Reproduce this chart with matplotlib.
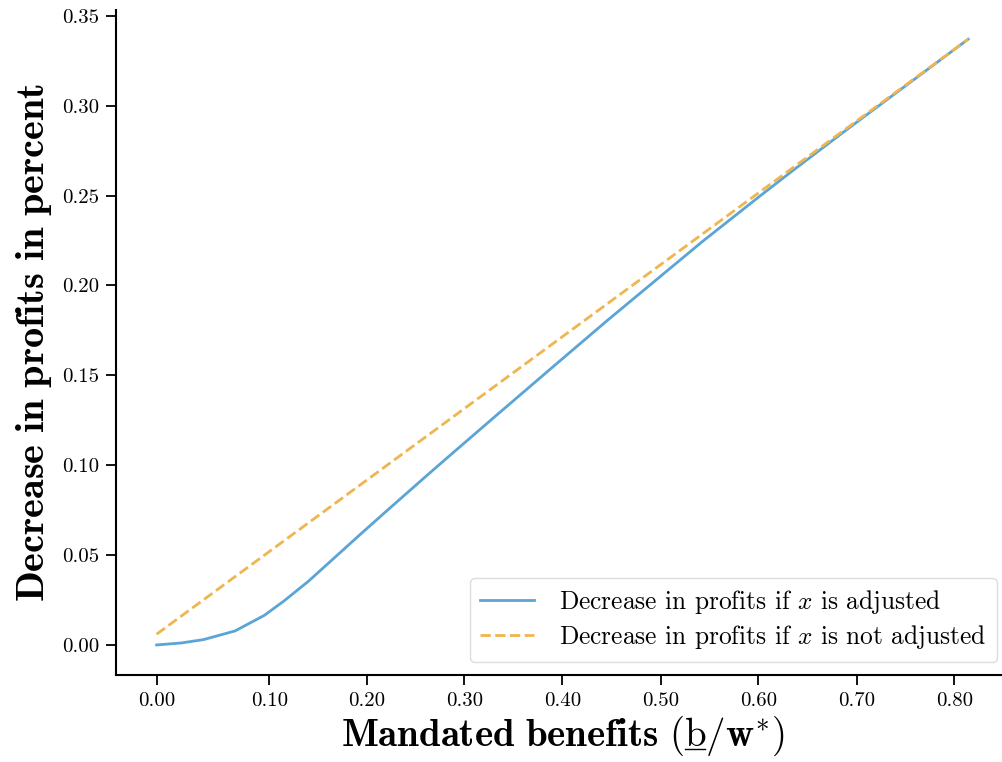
import numpy as np
import matplotlib
matplotlib.use('Agg')
import matplotlib.pyplot as plt
from matplotlib.lines import Line2D

plt.rcParams['mathtext.fontset'] = 'cm'
plt.rcParams['font.family'] = 'serif'
plt.rcParams['font.serif'] = ['cmr10', 'DejaVu Serif']
plt.rcParams['axes.formatter.use_mathtext'] = True
plt.rcParams['axes.unicode_minus'] = False

# mandated benefits b/w* and the resulting fall in profits
b_adj = [0.0, 0.025, 0.048, 0.08, 0.11, 0.13, 0.155, 0.182, 0.21, 0.236, 0.272, 0.30,
         0.344, 0.40, 0.46, 0.557, 0.615, 0.65, 0.70, 0.828]
loss_adj = [0.0, 0.0011, 0.003, 0.0078, 0.0165, 0.0245, 0.0355, 0.0488, 0.0626, 0.0752, 0.0925, 0.1058,
            0.1265, 0.1527, 0.1806, 0.2245, 0.2495, 0.2643, 0.2850, 0.337]
b_fixed = [0.0, 0.828]
loss_fixed = [0.006, 0.337]

xtick_pos = [0.0, 0.115, 0.2145, 0.314, 0.414, 0.5147, 0.614, 0.7147, 0.814]
xtick_labels = ['0.00', '0.10', '0.20', '0.30', '0.40', '0.50', '0.60', '0.70', '0.80']
ytick_pos = [0.00, 0.05, 0.10, 0.15, 0.20, 0.25, 0.30, 0.35]
ytick_labels = ['0.00', '0.05', '0.10', '0.15', '0.20', '0.25', '0.30', '0.35']

fig = plt.figure(figsize=(10.03, 7.62), dpi=100)
ax = fig.add_axes([0.1157, 0.1142, 0.89, 0.8728])

ax.plot(b_adj, loss_adj, color='#5aa5d6', lw=2, label=r'Decrease in profits if $x$ is adjusted')
ax.plot(b_fixed, loss_fixed, color='#efb54f', lw=2, ls='--', label=r'Decrease in profits if $x$ is not adjusted')

ax.set_xlim(-0.0414, 0.8694)
ax.set_ylim(-0.0167, 0.3533)
ax.set_xticks(xtick_pos)
ax.set_xticklabels(xtick_labels)
ax.set_yticks(ytick_pos)
ax.set_yticklabels(ytick_labels)
ax.tick_params(labelsize=15, length=7.5, width=1.3, pad=4.5)

for s in ['top', 'right']:
    ax.spines[s].set_visible(False)
for s in ['left', 'bottom']:
    ax.spines[s].set_linewidth(1.5)

ax.set_ylabel(r'$\mathbf{Decrease\ in\ profits\ in\ percent}$', fontsize=29, labelpad=6)

xl_size = 28
xl_head = r'$\mathbf{Mandated\ benefits}\ ($'
xl_full = r'$\mathbf{Mandated\ benefits}\ (\mathrm{b}/\mathbf{w}^{*})$'
ax.set_xlabel(xl_full, fontsize=xl_size, labelpad=3)

ax.legend(loc='lower right', fontsize=18.3, framealpha=1, edgecolor='#dddddd',
          handlelength=2.1, handletextpad=1.0, labelspacing=0.28, borderpad=0.42,
          borderaxespad=0, bbox_to_anchor=(0.987, 0.0195))

# underline the b in the x label
fig.canvas.draw()
r = fig.canvas.get_renderer()
bb = ax.xaxis.label.get_window_extent(r)
t1 = fig.text(0, 0, xl_head, fontsize=xl_size)
t2 = fig.text(0, 0, xl_head[:-1] + r'\mathrm{b}$', fontsize=xl_size)
w1 = t1.get_window_extent(r).width
w2 = t2.get_window_extent(r).width
_, _, desc = r.get_text_width_height_descent(xl_full, ax.xaxis.label.get_fontproperties(), ismath=True)
t1.remove()
t2.remove()
yb = bb.y0 + desc - 3
x0, y0 = fig.transFigure.inverted().transform((bb.x0 + w1 + 1, yb))
x1, _ = fig.transFigure.inverted().transform((bb.x0 + w2 - 1, yb))
fig.add_artist(Line2D([x0, x1], [y0, y0], transform=fig.transFigure, color='black', lw=1.0))

fig.savefig('out.png', dpi=100)
